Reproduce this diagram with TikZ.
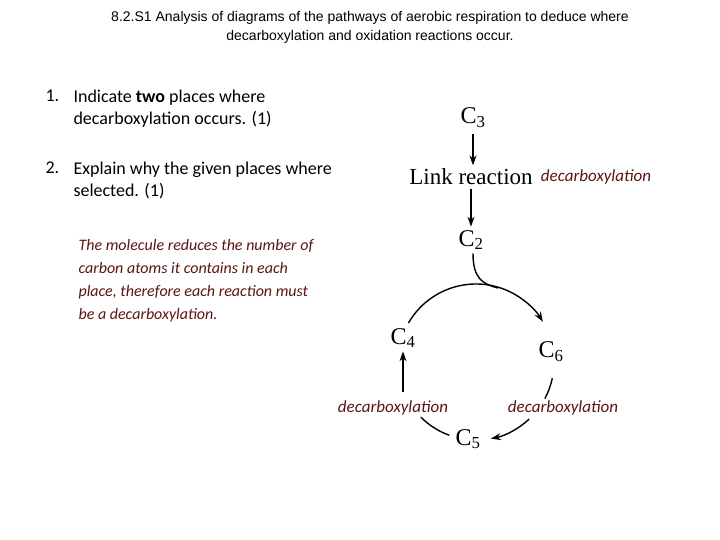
\documentclass[tikz,border=0pt]{standalone}
\usepackage{fontspec}
\setmainfont{Carlito}
\newfontfamily\arialf{Liberation Sans}
\newfontfamily\timesf{Liberation Serif}
\usetikzlibrary{arrows.meta}
\definecolor{ans}{HTML}{5A1515}
\begin{document}
\begin{tikzpicture}[x=1pt,y=-1pt,
  cc/.style={font=\timesf\fontsize{24}{24}\selectfont},
  an/.style={font=\itshape\fontsize{17}{17}\selectfont,text=ans},
  q/.style={font=\fontsize{18}{22}\selectfont,anchor=north west,align=left},
  ar/.style={-{Stealth[length=10pt,width=7pt]},line width=1.4pt},
  ln/.style={line width=1.4pt}]
\useasboundingbox (0,0) rectangle (720,540);
\node[font=\arialf\fontsize{14}{19}\selectfont,align=center] (title) at (370,27) {8.2.S1 Analysis of diagrams of the pathways of aerobic respiration to deduce where\\decarboxylation and oxidation reactions occur.};
\node[q] (n1) at (42,86) {1.};
\node[q] (q1) at (70,86) {Indicate \textbf{two} places where\\decarboxylation occurs. (1)};
\node[q] (n2) at (42,158) {2.};
\node[q] (q2) at (70,158) {Explain why the given places where\\selected. (1)};
\node[an,anchor=north west,align=left,font=\itshape\fontsize{16}{23}\selectfont] (ansp) at (75,236) {The molecule reduces the number of\\carbon atoms it contains in each\\place, therefore each reaction must\\be a decarboxylation.};
\node[cc] (c3) at (473,118) {C\textsubscript{3}};
\node[font=\timesf\fontsize{23}{23}\selectfont] (link) at (471,177) {Link reaction};
\node[an] (d1) at (596,177) {decarboxylation};
\node[cc] (c2) at (471,240) {C\textsubscript{2}};
\node[cc] (c4) at (403,338) {C\textsubscript{4}};
\node[cc] (c6) at (551,352) {C\textsubscript{6}};
\node[cc] (c5) at (468,439) {C\textsubscript{5}};
\node[an] (d2) at (393,408) {decarboxylation};
\node[an] (d3) at (563,408) {decarboxylation};
\draw[ar] (c3.south) ++(0,3) -- (link.north -| c3.south);
\draw[ar] (link.south -| c2.north) -- (c2.north);
\coordinate (cen) at (476,362);
\draw[ln] (c2.south) ++(2,0) .. controls (473,278) and (482,284) .. (498,288);
\draw[ar] ([shift={(-150:78)}]cen) arc[start angle=-150,end angle=-31,radius=78];
\draw[ln] ([shift={(12:78)}]cen) arc[start angle=12,end angle=28,radius=78];
\draw[ar] ([shift={(47:78)}]cen) arc[start angle=47,end angle=79,radius=78];
\draw[ln] ([shift={(135:78)}]cen) arc[start angle=135,end angle=110,radius=78];
\draw[ar] (d2.north -| c4.south) ++(0,-5) -- (c4.south);
\end{tikzpicture}
\end{document}
